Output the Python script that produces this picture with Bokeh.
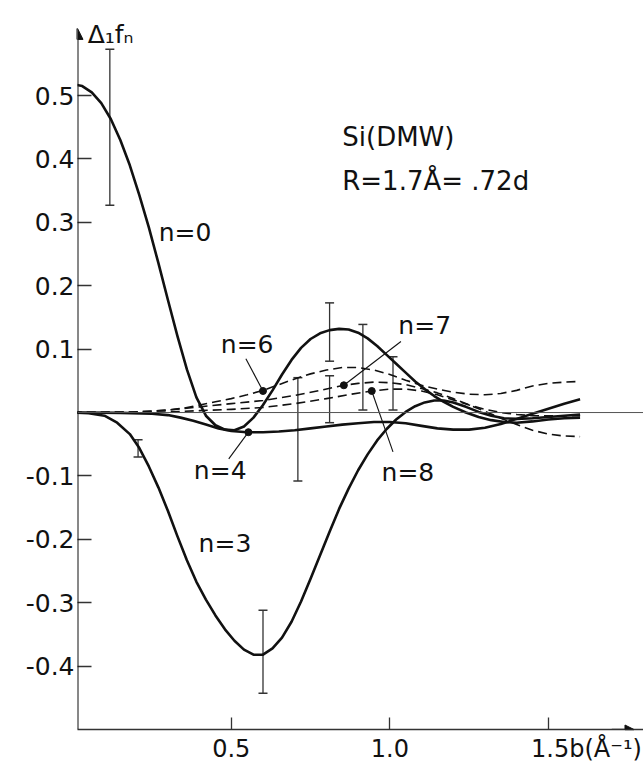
from bokeh.plotting import figure
from bokeh.models import (FixedTicker, Span, Whisker, TeeHead, ColumnDataSource,
                          Arrow, NormalHead, Label)
from bokeh.core.properties import value
from bokeh.embed import file_html
from bokeh.resources import INLINE

# ---- data ----
n0_x = [0.0, 0.03, 0.06, 0.09, 0.12, 0.15, 0.18, 0.21, 0.24, 0.27, 0.30, 0.33, 0.36, 0.39,
        0.42, 0.45, 0.48, 0.51, 0.54, 0.57, 0.60, 0.63, 0.66, 0.69, 0.72, 0.75, 0.78, 0.81,
        0.84, 0.87, 0.90, 0.93, 0.96, 0.99, 1.02, 1.05, 1.08, 1.11, 1.14, 1.17, 1.20, 1.24,
        1.28, 1.32, 1.36, 1.40, 1.45, 1.50, 1.55, 1.60]
n0_y = [0.518, 0.515, 0.505, 0.488, 0.463, 0.430, 0.390, 0.343, 0.292, 0.236, 0.178, 0.121,
        0.068, 0.024, -0.005, -0.020, -0.027, -0.028, -0.022, -0.008, 0.012, 0.035, 0.060,
        0.083, 0.102, 0.116, 0.125, 0.130, 0.132, 0.131, 0.126, 0.117, 0.105, 0.091, 0.077,
        0.063, 0.049, 0.037, 0.026, 0.017, 0.009, 0.0, -0.007, -0.012, -0.015, -0.016,
        -0.014, -0.011, -0.009, -0.008]

n3_x = [0.0, 0.05, 0.10, 0.14, 0.18, 0.21, 0.24, 0.27, 0.30, 0.33, 0.36, 0.39, 0.42, 0.45,
        0.48, 0.51, 0.54, 0.57, 0.60, 0.63, 0.66, 0.69, 0.72, 0.75, 0.78, 0.81, 0.84, 0.87,
        0.90, 0.93, 0.96, 0.99, 1.02, 1.05, 1.08, 1.11, 1.14, 1.17, 1.20, 1.24, 1.28, 1.32,
        1.36, 1.40, 1.45, 1.50, 1.55, 1.60]
n3_y = [0.0, -0.001, -0.005, -0.016, -0.034, -0.056, -0.085, -0.118, -0.155, -0.195,
        -0.233, -0.267, -0.295, -0.320, -0.342, -0.360, -0.374, -0.382, -0.382, -0.372,
        -0.355, -0.330, -0.298, -0.262, -0.225, -0.188, -0.152, -0.120, -0.091, -0.066,
        -0.044, -0.026, -0.011, 0.001, 0.010, 0.016, 0.019, 0.019, 0.016, 0.009, 0.001,
        -0.005, -0.009, -0.010, -0.009, -0.007, -0.005, -0.003]

n4_x = [0.0, 0.15, 0.25, 0.30, 0.34, 0.38, 0.42, 0.46, 0.50, 0.55, 0.60, 0.65, 0.70, 0.75,
        0.80, 0.85, 0.90, 0.95, 1.00, 1.05, 1.10, 1.15, 1.20, 1.25, 1.30, 1.35, 1.40, 1.45,
        1.50, 1.55, 1.60]
n4_y = [0.0, -0.0005, -0.002, -0.004, -0.008, -0.013, -0.019, -0.025, -0.029, -0.031,
        -0.031, -0.030, -0.028, -0.025, -0.022, -0.019, -0.017, -0.015, -0.015, -0.017,
        -0.021, -0.025, -0.027, -0.027, -0.024, -0.018, -0.010, -0.002, 0.006, 0.014, 0.021]

n6_x = [0.0, 0.15, 0.25, 0.30, 0.35, 0.40, 0.45, 0.50, 0.55, 0.60, 0.65, 0.70, 0.75, 0.80,
        0.85, 0.90, 0.95, 1.00, 1.05, 1.10, 1.15, 1.20, 1.25, 1.30, 1.35, 1.40, 1.45, 1.50,
        1.55, 1.60]
n6_y = [0.0, 0.0, 0.002, 0.004, 0.007, 0.012, 0.017, 0.022, 0.028, 0.035, 0.044, 0.053,
        0.061, 0.067, 0.071, 0.071, 0.067, 0.060, 0.051, 0.043, 0.037, 0.032, 0.029, 0.028,
        0.030, 0.035, 0.042, 0.046, 0.048, 0.049]

n7_x = [0.0, 0.2, 0.3, 0.4, 0.5, 0.6, 0.7, 0.78, 0.855, 0.90, 0.95, 1.00, 1.05, 1.10, 1.15,
        1.20, 1.25, 1.30, 1.35, 1.40, 1.45, 1.50, 1.55, 1.60]
n7_y = [0.0, 0.001, 0.004, 0.009, 0.014, 0.019, 0.027, 0.035, 0.043, 0.046, 0.048, 0.047,
        0.044, 0.038, 0.031, 0.022, 0.012, 0.002, -0.009, -0.019, -0.028, -0.034, -0.037,
        -0.038]

n8_x = [0.0, 0.2, 0.3, 0.4, 0.5, 0.6, 0.7, 0.8, 0.88, 0.943, 1.00, 1.05, 1.10, 1.15, 1.20,
        1.25, 1.30, 1.35, 1.40, 1.45, 1.50, 1.55, 1.60]
n8_y = [0.0, 0.0, 0.001, 0.003, 0.005, 0.008, 0.014, 0.022, 0.029, 0.034, 0.037, 0.037,
        0.034, 0.028, 0.020, 0.012, 0.005, 0.0, -0.003, -0.005, -0.005, -0.005, -0.005]

# error bars
err_x = [0.117, 0.206, 0.60, 0.71, 0.81, 0.81, 0.915, 1.01]
err_lo = [0.327, -0.070, -0.443, -0.108, 0.081, -0.016, 0.004, 0.004]
err_hi = [0.573, -0.043, -0.312, 0.055, 0.173, 0.058, 0.139, 0.088]

# curve labels
lab_text = ["n=0", "n=3", "n=4", "n=6", "n=7", "n=8"]
lab_x = [0.354, 0.48, 0.465, 0.55, 1.11, 1.057]
lab_y = [0.284, -0.207, -0.092, 0.107, 0.137, -0.094]

# marker dots and leader lines
dot_x = [0.554, 0.60, 0.855, 0.943]
dot_y = [-0.031, 0.034, 0.043, 0.034]
lead_x = [0.492, 0.546, 1.035, 1.01]
lead_y = [-0.073, 0.085, 0.112, -0.062]

y_ticks = [0.5, 0.4, 0.3, 0.2, 0.1, -0.1, -0.2, -0.3, -0.4]
y_tick_labels = ["0.5", "0.4", "0.3", "0.2", "0.1", "-0.1", "-0.2", "-0.3", "-0.4"]
x_ticks = [0.5, 1.0, 1.5]
x_tick_labels = ["0.5", "1.0", "1.5"]
x_unit = "b(Å⁻¹)"
y_title = "Δ₁fₙ"
note_lines = ["Si(DMW)", "R=1.7Å= .72d"]

FONT = "DejaVu Sans"
INK = "#111111"
GREY = "#333333"

p = figure(width=643, height=769, x_range=(0.015, 1.80), y_range=(-0.5, 0.65),
           output_backend="svg", toolbar_location=None,
           min_border_left=77, min_border_right=0, min_border_top=0, min_border_bottom=40)
p.xgrid.visible = False
p.ygrid.visible = False
p.outline_line_color = None
p.background_fill_color = "white"
p.border_fill_color = "white"

# y axis (line drawn as arrow below)
p.yaxis.ticker = FixedTicker(ticks=y_ticks)
p.yaxis.major_label_overrides = {t: l for t, l in zip(y_ticks, y_tick_labels)}
p.yaxis.major_tick_in = 14
p.yaxis.major_tick_out = 0
p.yaxis.minor_tick_line_color = None
p.yaxis.axis_line_color = None
p.yaxis.major_tick_line_color = GREY
p.yaxis.major_tick_line_width = 1.3
p.yaxis.major_label_text_font = FONT
p.yaxis.major_label_text_font_size = "25px"
p.yaxis.major_label_text_color = INK
p.yaxis.major_label_standoff = 3

# x axis; the unit follows the last tick label, as in the original
pad = "\u00a0" * 10
x_over = {t: l for t, l in zip(x_ticks, x_tick_labels)}
x_over[x_ticks[-1]] = pad + x_tick_labels[-1] + x_unit
p.xaxis.ticker = FixedTicker(ticks=x_ticks)
p.xaxis.major_label_overrides = x_over
p.xaxis.major_tick_in = 12
p.xaxis.major_tick_out = 0
p.xaxis.minor_tick_line_color = None
p.xaxis.axis_line_width = 1.3
p.xaxis.axis_line_color = GREY
p.xaxis.major_tick_line_color = GREY
p.xaxis.major_tick_line_width = 1.3
p.xaxis.major_label_text_font = FONT
p.xaxis.major_label_text_font_size = "24px"
p.xaxis.major_label_text_color = INK
p.xaxis.major_label_standoff = 5

# axis arrows
p.add_layout(Arrow(end=NormalHead(size=11, fill_color=INK, line_color=INK),
                   x_start=0.015, y_start=-0.5, x_end=0.015, y_end=0.606,
                   line_color=INK, line_width=2))
p.add_layout(Arrow(end=NormalHead(size=9, fill_color=INK, line_color=INK),
                   x_start=1.70, y_start=-0.5, x_end=1.77, y_end=-0.5,
                   line_color=GREY, line_width=1.3))

# zero line
p.add_layout(Span(location=0, dimension="width", line_color="#555555", line_width=1))

# solid curves
for xs, ys in [(n0_x, n0_y), (n3_x, n3_y), (n4_x, n4_y)]:
    p.line(xs, ys, line_color=INK, line_width=2.6, line_join="round")

# dashed curves
for xs, ys in [(n6_x, n6_y), (n7_x, n7_y), (n8_x, n8_y)]:
    p.line(xs, ys, line_color=INK, line_width=1.6, line_dash="9 5", line_join="round")

# error bars
esrc = ColumnDataSource(dict(base=err_x, lower=err_lo, upper=err_hi))
p.add_layout(Whisker(source=esrc, base="base", lower="lower", upper="upper",
                     dimension="height", line_color=GREY, line_width=1.3,
                     upper_head=TeeHead(size=9, line_color=GREY, line_width=1.5),
                     lower_head=TeeHead(size=9, line_color=GREY, line_width=1.5)))

# leader lines and dots
p.segment(x0=lead_x, y0=lead_y, x1=dot_x, y1=dot_y, line_color=INK, line_width=1.1)
p.scatter(dot_x, dot_y, size=7, color=INK)

# curve labels
lsrc = ColumnDataSource(dict(x=lab_x, y=lab_y, t=lab_text))
p.text(x="x", y="y", text="t", source=lsrc, text_font=value(FONT),
       text_font_size="25px", text_color=INK, text_align="center",
       text_baseline="middle")

# annotation text
p.add_layout(Label(x=0.85, y=0.434, text=note_lines[0], text_font=FONT,
                   text_font_size="26px", text_color=INK, text_baseline="middle"))
p.add_layout(Label(x=0.85, y=0.365, text=note_lines[1], text_font=FONT,
                   text_font_size="26px", text_color=INK, text_baseline="middle"))
p.add_layout(Label(x=0.047, y=0.596, text=y_title, text_font=FONT,
                   text_font_size="25px", text_color=INK, text_baseline="middle"))

open("out.html", "w").write(file_html(p, INLINE))
